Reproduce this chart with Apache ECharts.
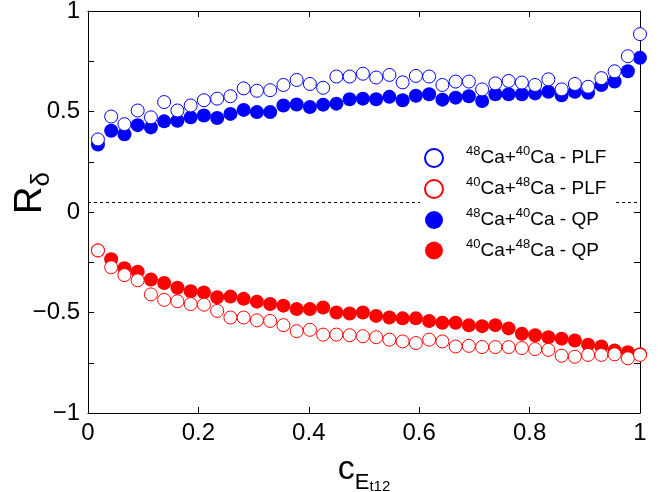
<!DOCTYPE html>
<html>
<head>
<meta charset="utf-8">
<script src="https://cdn.jsdelivr.net/npm/echarts@6/dist/echarts.min.js"></script>
<style>html,body{margin:0;padding:0;background:#fff}#c{width:668px;height:492px}</style>
</head>
<body>
<div id="c"></div>
<script>
// x positions of the bins
const xs = [0.018,0.042,0.066,0.090,0.114,0.138,0.162,0.186,0.210,0.234,0.258,0.282,0.306,0.330,0.354,0.378,0.402,0.426,0.450,0.474,0.498,
  0.522,0.546,0.570,0.594,0.618,0.642,0.666,0.690,0.714,0.738,0.762,0.786,0.810,0.834,0.858,0.882,0.906,0.930,0.954,0.978,1.000];
const blueOpen = [0.361,0.475,0.437,0.505,0.471,0.547,0.505,0.530,0.556,0.564,0.576,0.615,0.603,0.606,0.632,0.657,0.637,0.618,0.674,0.674,0.688,
  0.669,0.682,0.645,0.677,0.674,0.632,0.649,0.649,0.610,0.640,0.652,0.644,0.632,0.660,0.610,0.637,0.623,0.666,0.700,0.775,0.885];
const blueFill = [0.336,0.404,0.387,0.432,0.421,0.451,0.454,0.471,0.480,0.468,0.488,0.508,0.497,0.497,0.530,0.535,0.522,0.534,0.539,0.561,0.564,
  0.561,0.573,0.556,0.578,0.586,0.559,0.569,0.576,0.552,0.586,0.586,0.586,0.590,0.598,0.581,0.598,0.593,0.632,0.649,0.700,0.767];
const redFill = [-0.191,-0.235,-0.280,-0.297,-0.336,-0.353,-0.377,-0.394,-0.400,-0.424,-0.421,-0.432,-0.446,-0.458,-0.466,-0.483,-0.483,-0.475,-0.500,-0.505,-0.500,
  -0.517,-0.525,-0.529,-0.529,-0.542,-0.551,-0.551,-0.564,-0.568,-0.563,-0.579,-0.606,-0.613,-0.623,-0.630,-0.639,-0.660,-0.669,-0.689,-0.698,-0.708];
const redOpen = [-0.191,-0.275,-0.314,-0.340,-0.410,-0.437,-0.444,-0.458,-0.461,-0.492,-0.525,-0.525,-0.539,-0.542,-0.563,-0.593,-0.586,-0.610,-0.610,-0.613,-0.618,
  -0.623,-0.635,-0.644,-0.652,-0.635,-0.644,-0.669,-0.666,-0.672,-0.672,-0.672,-0.677,-0.682,-0.686,-0.715,-0.720,-0.711,-0.711,-0.708,-0.728,-0.711];
const xTicks = ['0','0.2','0.4','0.6','0.8','1'];
const dashLevel = 0.05;

const pair = arr => arr.map((v, i) => [xs[i], v]);
const font = 'Liberation Sans, Arial, sans-serif';
const chart = echarts.init(document.getElementById('c'));

function sc(name, data, color, filled) {
  return {
    name, type: 'scatter', data: pair(data), symbol: 'circle', symbolSize: filled ? 14 : 13,
    itemStyle: filled ? { color, opacity: 1 } : { color: '#fff', borderColor: color, borderWidth: 1, opacity: 1 },
    emphasis: { disabled: true }
  };
}
const yFmt = v => {
  if (Math.abs(v * 2 - Math.round(v * 2)) > 1e-6) return '';
  return (Math.round(v * 10) / 10).toString().replace('-', '−');
};
const legRich = {
  s: { fontSize: 13, verticalAlign: 'top', fontFamily: font, color: '#000', lineHeight: 20 },
  t: { fontSize: 19, fontFamily: font, color: '#000', lineHeight: 26 }
};
const legNames = {
  a: '{s|48}{t|Ca+}{s|40}{t|Ca - PLF}',
  b: '{s|40}{t|Ca+}{s|48}{t|Ca - PLF}',
  c: '{s|48}{t|Ca+}{s|40}{t|Ca - QP}',
  d: '{s|40}{t|Ca+}{s|48}{t|Ca - QP}'
};
const axLine = { onZero: false, lineStyle: { color: '#000' } };
const tick = { inside: true, length: 6, lineStyle: { color: '#000' } };

chart.setOption({
  animation: false,
  backgroundColor: '#fff',
  grid: { left: 88, right: 28, top: 11, bottom: 79, outerBoundsMode: 'none', containLabel: false },
  graphic: [{
    type: 'text', left: 12, top: 172, rotation: Math.PI / 2,
    style: { text: '{r|R}{d|δ}', rich: {
      r: { fontSize: 38, fontFamily: font, fill: '#000' },
      d: { fontSize: 26, fontFamily: font, fill: '#000', verticalAlign: 'bottom', padding: [22, 0, 0, 0] }
    } }
  }],
  legend: {
    orient: 'vertical', left: 420, top: 141, itemGap: 8, itemWidth: 18, itemHeight: 18, z: 20,
    padding: [4, 8, 4, 4], backgroundColor: '#fff', align: 'left',
    data: ['a', 'b', 'c', 'd'],
    formatter: n => legNames[n],
    textStyle: { rich: legRich, width: 170, padding: [0, 0, 0, 18] }
  },
  xAxis: [{
    type: 'value', min: 0, max: 1, interval: 0.2,
    axisLine: axLine, axisTick: tick, splitLine: { show: false },
    axisLabel: { color: '#000', fontSize: 24, fontFamily: font, margin: 8, formatter: v => xTicks[Math.round(v * 5)] },
    name: '{c|c}{e|E}{t|t12}', nameLocation: 'middle', nameGap: 32,
    nameTextStyle: { rich: {
      c: { fontSize: 34, fontFamily: font, color: '#000' },
      e: { fontSize: 22, fontFamily: font, color: '#000', verticalAlign: 'bottom', padding: [18, 0, 0, 0] },
      t: { fontSize: 15, fontFamily: font, color: '#000', verticalAlign: 'bottom', padding: [34, 0, 0, 0] }
    } }
  }, {
    type: 'value', min: 0, max: 1, interval: 0.2, position: 'top',
    axisLine: axLine, axisTick: tick, axisLabel: { show: false }, splitLine: { show: false }
  }],
  yAxis: [{
    type: 'value', min: -1, max: 1, interval: 0.25,
    axisLine: Object.assign({ show: true }, axLine), axisTick: tick, splitLine: { show: false },
    axisLabel: { color: '#000', fontSize: 24, fontFamily: font, margin: 8, formatter: yFmt }
  }, {
    type: 'value', min: -1, max: 1, interval: 0.25, position: 'right',
    axisLine: Object.assign({ show: true }, axLine), axisTick: tick, axisLabel: { show: false }, splitLine: { show: false }
  }],
  series: [
    Object.assign(sc('c', blueFill, '#0000ff', true), {
      markLine: { silent: true, symbol: 'none', label: { show: false }, z: 1,
        lineStyle: { color: '#000', type: [3, 3], width: 1 }, data: [{ yAxis: dashLevel }] }
    }),
    sc('d', redFill, '#ff0000', true),
    sc('a', blueOpen, '#0000ff', false),
    sc('b', redOpen, '#ff0000', false)
  ]
});
</script>
</body>
</html>
